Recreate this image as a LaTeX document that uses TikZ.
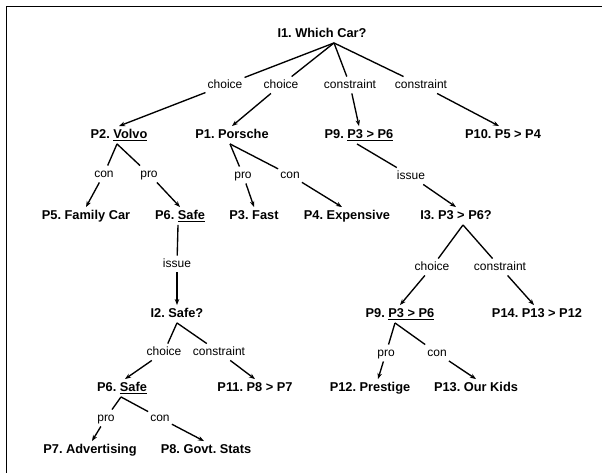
\documentclass[tikz,border=0pt]{standalone}
\usepackage{fontspec}
\setmainfont{Liberation Sans}
\usetikzlibrary{arrows.meta}
\frenchspacing
\tikzset{
  stmt/.style={font=\frenchspacing\bfseries\fontsize{12.8}{14}\selectfont, inner xsep=1pt, inner ysep=3pt, text height=9pt, text depth=2.5pt},
  lbl/.style={font=\fontsize{12}{14}\selectfont, inner xsep=2pt, inner ysep=2.5pt, text height=9pt, text depth=2.5pt},
  link/.style={line width=1.35pt},
  arr/.style={link, -{Stealth[length=6pt,width=4.5pt]}},
  frame/.style={line width=1.6pt}
}
\begin{document}
\begin{tikzpicture}[x=1pt,y=-1pt]
\useasboundingbox (0,0) rectangle (602,473);
\draw[frame] (602,6.5) -- (6.5,6.5) -- (6.5,473);

% statements / issues
\node[stmt] (I1) at (322,34) {I1. Which Car?};
\node[stmt] (P2) at (119,135) {P2. \underline{Volvo}};
\node[stmt] (P1) at (232,135) {P1. Porsche};
\node[stmt] (P9a) at (359,135) {P9. \underline{P3 > P6}};
\node[stmt] (P10) at (503,135) {P10. P5 > P4};
\node[stmt] (P5) at (86,216) {P5. Family Car};
\node[stmt] (P6a) at (180,216) {P6. \underline{Safe}};
\node[stmt] (P3) at (254,216) {P3. Fast};
\node[stmt] (P4) at (347,216) {P4. Expensive};
\node[stmt] (I3) at (456,216) {I3. P3 > P6?};
\node[stmt] (I2) at (177,314) {I2. Safe?};
\node[stmt] (P9b) at (400,314) {P9. \underline{P3 > P6}};
\node[stmt] (P14) at (537,314) {P14. P13 > P12};
\node[stmt] (P6b) at (122,388) {P6. \underline{Safe}};
\node[stmt] (P11) at (255,388) {P11. P8 > P7};
\node[stmt] (P12) at (370,388) {P12. Prestige};
\node[stmt] (P13) at (476,388) {P13. Our Kids};
\node[stmt] (P7) at (90,450) {P7. Advertising};
\node[stmt] (P8) at (206,450) {P8. Govt. Stats};

% relation labels
\node[lbl] (c1) at (225,85) {choice};
\node[lbl] (c2) at (281,85) {choice};
\node[lbl] (k3) at (350,85) {constraint};
\node[lbl] (k4) at (421,85) {constraint};
\node[lbl] (lcon1) at (104,174) {con};
\node[lbl] (lpro1) at (149,174) {pro};
\node[lbl] (lpro2) at (243,175) {pro};
\node[lbl] (lcon2) at (290,175) {con};
\node[lbl] (liss1) at (411,176) {issue};
\node[lbl] (liss2) at (177,264) {issue};
\node[lbl] (lch3) at (432,267) {choice};
\node[lbl] (lk5) at (500,267) {constraint};
\node[lbl] (lch4) at (164,352) {choice};
\node[lbl] (lk6) at (219,352) {constraint};
\node[lbl] (lpro3) at (386,353) {pro};
\node[lbl] (lcon3) at (437,353) {con};
\node[lbl] (lpro4) at (106,418) {pro};
\node[lbl] (lcon4) at (160,418) {con};

% I1
\draw[link] ([xshift=12pt]I1.south) -- (c1);
\draw[link] ([xshift=12pt]I1.south) -- (c2);
\draw[link] ([xshift=12pt]I1.south) -- (k3);
\draw[link] ([xshift=12pt]I1.south) -- (k4);
\draw[arr] (c1) -- (P2.north);
\draw[arr] (c2) -- (P1.north);
\draw[arr] (k3) -- (P9a.north);
\draw[arr] (k4) -- ([xshift=-4pt]P10.north);
% P2
\draw[link] ([xshift=-2pt]P2.south) -- (lcon1);
\draw[link] ([xshift=-2pt]P2.south) -- (lpro1);
\draw[arr] (lcon1) -- (P5.north);
\draw[arr] (lpro1) -- (P6a.north);
% P1
\draw[link] ([xshift=-2pt]P1.south) -- (lpro2);
\draw[link] ([xshift=-2pt]P1.south) -- (lcon2);
\draw[arr] (lpro2) -- (P3.north);
\draw[arr] (lcon2) -- ([xshift=-5pt]P4.north);
% P9a
\draw[link] ([xshift=-2pt]P9a.south) -- (liss1);
\draw[arr] (liss1) -- (I3.north);
% P6a
\draw[link] ([xshift=-2pt]P6a.south) -- (liss2);
\draw[arr] (liss2) -- (I2.north);
% I3
\draw[link] ([xshift=7pt]I3.south) -- (lch3);
\draw[link] ([xshift=7pt]I3.south) -- (lk5);
\draw[arr] (lch3) -- (P9b.north);
\draw[arr] (lk5) -- ([xshift=-3pt]P14.north);
% I2
\draw[link] (I2.south) -- (lch4);
\draw[link] (I2.south) -- (lk6);
\draw[arr] (lch4) -- ([xshift=3pt]P6b.north);
\draw[arr] (lk6) -- (P11.north);
% P9b
\draw[link] ([xshift=-5pt]P9b.south) -- (lpro3);
\draw[link] ([xshift=-5pt]P9b.south) -- (lcon3);
\draw[arr] (lpro3) -- ([xshift=8pt]P12.north);
\draw[arr] (lcon3) -- (P13.north);
% P6b
\draw[link] ([xshift=-1pt]P6b.south) -- (lpro4);
\draw[link] ([xshift=-1pt]P6b.south) -- (lcon4);
\draw[arr] (lpro4) -- ([xshift=2pt]P7.north);
\draw[arr] (lcon4) -- ([xshift=-2pt]P8.north);
\end{tikzpicture}
\end{document}
